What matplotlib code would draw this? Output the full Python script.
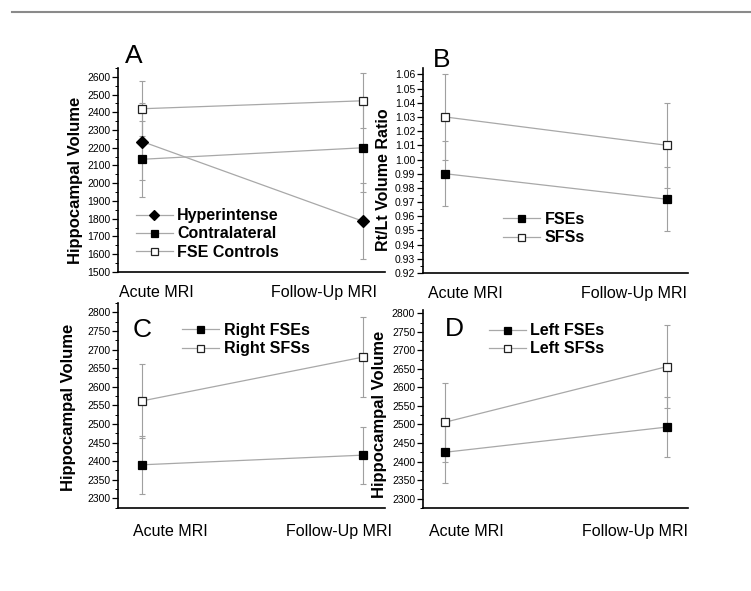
import matplotlib
matplotlib.use("Agg")
import matplotlib.pyplot as plt
from matplotlib.lines import Line2D
from matplotlib.ticker import MultipleLocator, FormatStrFormatter

plt.rcParams['font.family'] = ['Liberation Sans', 'DejaVu Sans']

timepoints = ["Acute MRI", "Follow-Up MRI"]
x = [0, 1]

# Panel A - hippocampal volume
a_hyper = [2235, 1785]
a_hyper_err = [215, 215]
a_contra = [2135, 2200]
a_contra_err = [215, 250]
a_ctrl = [2420, 2465]
a_ctrl_err = [155, 155]

# Panel B - Rt/Lt ratio
b_fse = [0.990, 0.972]
b_fse_err = [0.023, 0.0225]
b_sfs = [1.030, 1.010]
b_sfs_err = [0.030, 0.030]

# Panel C - right hippocampus
c_fse = [2390, 2416]
c_fse_err = [78, 77]
c_sfs = [2562, 2680]
c_sfs_err = [100, 107]

# Panel D - left hippocampus
d_fse = [2425, 2493]
d_fse_err = [84, 80]
d_sfs = [2506, 2656]
d_sfs_err = [107, 111]

LINE = '#a8a8a8'
ERR = '#a0a0a0'


def series(ax, y, err, marker, face, label, ms=6.3):
    ax.errorbar(x, y, yerr=err, fmt='none', ecolor=ERR, elinewidth=0.8,
                capsize=2.2, capthick=0.8, zorder=2)
    ax.plot(x, y, color=LINE, lw=0.9, marker=marker, ms=ms,
            mfc=face, mec='#222222' if face == 'white' else 'black',
            mew=0.9, label=label, zorder=3)


def style(ax, ylim, major, minor, fmt, ylabel, lab_xy, letter, letter_xy,
          xl, label_y):
    ax.set_xlim(xl[0], xl[1])
    ax.set_ylim(*ylim)
    ax.yaxis.set_major_locator(MultipleLocator(major))
    ax.yaxis.set_minor_locator(MultipleLocator(minor))
    ax.yaxis.set_major_formatter(FormatStrFormatter(fmt))
    ax.set_xticks([])
    for s in ['top', 'right']:
        ax.spines[s].set_visible(False)
    ax.spines['left'].set_linewidth(1.2)
    ax.spines['bottom'].set_linewidth(1.2)
    ax.tick_params(axis='y', which='major', length=4, width=0.9,
                   labelsize=7.5, pad=1.5)
    ax.tick_params(axis='y', which='minor', length=2, width=0.7)
    ax.set_ylabel(ylabel, fontsize=12, fontweight='bold')
    ax.yaxis.set_label_coords(*lab_xy)
    ax.text(letter_xy[0], letter_xy[1], letter, transform=ax.transAxes,
            fontsize=19, ha='left', va='baseline')
    ax.text(xl[2], label_y, timepoints[0], transform=ax.transAxes,
            fontsize=11.5, ha='left', va='center')
    ax.text(xl[3], label_y, timepoints[1], transform=ax.transAxes,
            fontsize=11.5, ha='right', va='center')


def legend(ax, anchor):
    ax.legend(loc='center left', bbox_to_anchor=anchor, frameon=False,
              borderpad=0, borderaxespad=0, handlelength=2.3,
              handletextpad=0.3, labelspacing=0.2, markerscale=0.8,
              prop={'weight': 'bold', 'size': 11.5})


fig = plt.figure(figsize=(7.51, 5.91), dpi=100)
fig.add_artist(Line2D([0.016, 1.0], [1 - 12 / 591] * 2, color='#8a8a8a', lw=1.5))

axA = fig.add_axes([0.157, 0.540, 0.356, 0.345])
axB = fig.add_axes([0.563, 0.538, 0.353, 0.347])
axC = fig.add_axes([0.157, 0.140, 0.356, 0.347])
axD = fig.add_axes([0.563, 0.140, 0.353, 0.335])

series(axA, a_hyper, a_hyper_err, 'D', 'black', 'Hyperintense', ms=5.8)
series(axA, a_contra, a_contra_err, 's', 'black', 'Contralateral')
series(axA, a_ctrl, a_ctrl_err, 's', 'white', 'FSE Controls')
style(axA, (1500, 2650), 100, 50, '%d', 'Hippocampal Volume',
      (-0.131, 0.451), 'A', (0.026, 1.025), (-0.11, 1.1, 0.005, 0.97), -0.103)
legend(axA, (0.067, 0.186))

series(axB, b_fse, b_fse_err, 's', 'black', 'FSEs')
series(axB, b_sfs, b_sfs_err, 's', 'white', 'SFSs')
style(axB, (0.92, 1.0645), 0.01, 0.005, '%.2f', 'Rt/Lt Volume Ratio',
      (-0.121, 0.454), 'B', (0.038, 1.006), (-0.1, 1.095, 0.019, 0.996), -0.098)
axB.yaxis.label.set_size(11.5)
legend(axB, (0.302, 0.217))

series(axC, c_fse, c_fse_err, 's', 'black', 'Right FSEs')
series(axC, c_sfs, c_sfs_err, 's', 'white', 'Right SFSs')
style(axC, (2273, 2825), 50, 25, '%d', 'Hippocampal Volume',
      (-0.157, 0.493), 'C', (0.056, 0.834), (-0.11, 1.1, 0.056, 1.026), -0.112)
legend(axC, (0.24, 0.822))

series(axD, d_fse, d_fse_err, 's', 'black', 'Left FSEs')
series(axD, d_sfs, d_sfs_err, 's', 'white', 'Left SFSs')
style(axD, (2274, 2808), 50, 25, '%d', 'Hippocampal Volume',
      (-0.136, 0.473), 'D', (0.083, 0.869), (-0.1, 1.095, 0.023, 1.0), -0.116)
legend(axD, (0.249, 0.851))

fig.savefig('out.png', dpi=100)
